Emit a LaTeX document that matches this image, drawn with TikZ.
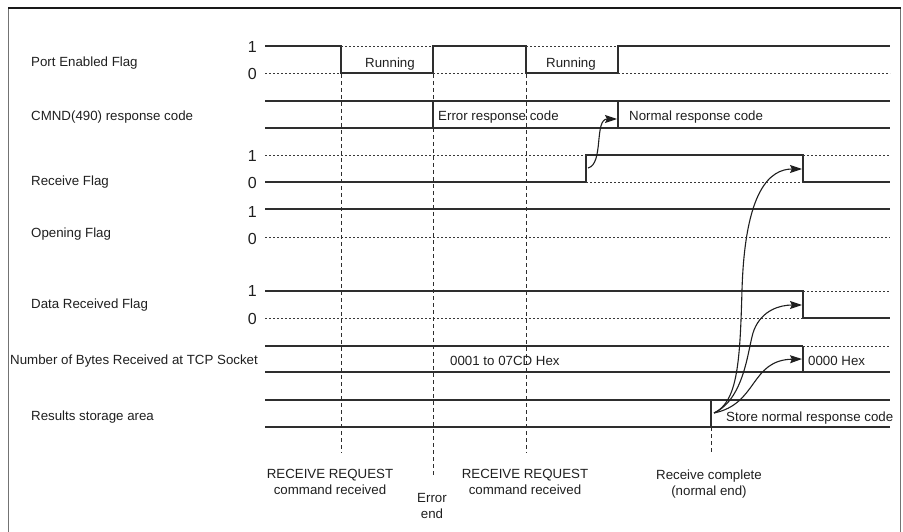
\documentclass[tikz,border=0pt]{standalone}
\usepackage{fontspec}
\setmainfont{Liberation Sans}
\usetikzlibrary{arrows.meta}
\begin{document}
\begin{tikzpicture}[x=1pt,y=-1pt,
 wave/.style={line width=1.3pt, black!82},
 dotl/.style={line width=0.8pt, black!78, dash pattern=on 2pt off 2pt},
 vdash/.style={line width=0.9pt, black!82, dash pattern=on 4pt off 3pt},
 lbl/.style={font=\fontsize{13.3}{16}\selectfont, text=black!88, inner sep=0pt},
 lvl/.style={font=\fontsize{16}{18}\selectfont, text=black!88, inner sep=0pt, anchor=east},
 arr/.style={line width=1.1pt, black!88, -{Stealth[length=12pt,width=8pt,inset=2pt]}},
]
\useasboundingbox (0,0) rectangle (903,532);
% frame
\draw[black!55, line width=1.3pt] (8.5,532) -- (8.5,8) (900.5,8) -- (900.5,532);
\draw[black!90, line width=1.1pt] (8,8) -- (901,8);

% ---------- Port Enabled Flag
\node[lbl, anchor=west] (pel) at (31,63) {Port Enabled Flag};
\node[lvl] (pe1) at (257,47) {1};
\node[lvl] (pe0) at (257,74) {0};
\draw[wave] (265,46) -- (341,46) -- (341,73) -- (433,73) -- (433,46) -- (526,46) -- (526,73) -- (618,73) -- (618,46) -- (890,46);
\draw[dotl] (341,46) -- (433,46) (526,46) -- (618,46) (265,73) -- (341,73) (433,73) -- (526,73) (618,73) -- (890,73);
\node[lbl] (run1) at (390,64) {Running};
\node[lbl] (run2) at (571,64) {Running};

% ---------- CMND(490) response code
\node[lbl, anchor=west] (cml) at (31,117) {CMND(490) response code};
\draw[wave] (265,101) -- (890,101) (265,128) -- (890,128) (433,101) -- (433,128) (618,101) -- (618,128);
\node[lbl, anchor=west] (err) at (438,117) {Error response code};
\node[lbl, anchor=west] (nor) at (629,117) {Normal response code};

% ---------- Receive Flag
\node[lbl, anchor=west] (rfl) at (31,182) {Receive Flag};
\node[lvl] (rf1) at (257,156) {1};
\node[lvl] (rf0) at (257,183) {0};
\draw[wave] (265,182) -- (586,182) -- (586,155) -- (803,155) -- (803,182) -- (890,182);
\draw[dotl] (265,155) -- (586,155) (803,155) -- (890,155) (586,182) -- (803,182);

% ---------- Opening Flag
\node[lbl, anchor=west] (ofl) at (31,234) {Opening Flag};
\node[lvl] (of1) at (257,212) {1};
\node[lvl] (of0) at (257,239) {0};
\draw[wave] (265,209) -- (890,209);
\draw[dotl] (265,237) -- (890,237);

% ---------- Data Received Flag
\node[lbl, anchor=west] (drl) at (31,305) {Data Received Flag};
\node[lvl] (dr1) at (257,291) {1};
\node[lvl] (dr0) at (257,319) {0};
\draw[wave] (265,291) -- (803,291) -- (803,318) -- (890,318);
\draw[dotl] (803,291) -- (890,291) (265,318) -- (803,318);

% ---------- Number of Bytes
\node[lbl, anchor=west] (nbl) at (10,361) {Number of Bytes Received at TCP Socket};
\draw[wave] (265,346) -- (803,346) (265,372) -- (890,372) (803,346) -- (803,372);
\draw[dotl] (803,346) -- (890,346);

% ---------- Results storage area
\node[lbl, anchor=west] (rsl) at (31,417) {Results storage area};
\draw[wave] (265,400) -- (890,400) (265,427) -- (890,427) (711,400) -- (711,427);

% ---------- vertical dashed lines
\draw[vdash] (341,74) -- (341,453);
\draw[vdash] (433,74) -- (433,101) (433,128) -- (433,476);
\draw[vdash] (526,74) -- (526,453);
\draw[vdash] (711,427) -- (711,453);

% texts over lines
\node[lbl, anchor=west] (hex1) at (450,361) {0001 to 07CD Hex};
\node[lbl, anchor=west] (hex0) at (808,361) {0000 Hex};
\node[lbl, anchor=west] (store) at (726,418) {Store normal response code};

% ---------- arrows
\coordinate (rise) at (588,168);
\coordinate (cmndtip) at (617,119);
\coordinate (src) at (714,413);
\coordinate (rftip) at (802,169);
\coordinate (drtip) at (802,305);
\coordinate (nbtip) at (802,359);
\draw[arr] (rise) .. controls (604,164) and (594,119) .. (cmndtip);
\draw[arr] (src) .. controls (738,402) and (740,360) .. (742,290) .. controls (745,190) and (770,169) .. (rftip);
\draw[arr] (src) .. controls (746,398) and (748,345) .. (754,330) .. controls (762,310) and (780,305) .. (drtip);
\draw[arr] (src) .. controls (758,404) and (750,360) .. (nbtip);

% ---------- bottom labels
\node[lbl, align=center] (ev1) at (330,482) {RECEIVE REQUEST\\command received};
\node[lbl, align=center] (ev2) at (432,506) {Error\\end};
\node[lbl, align=center] (ev3) at (525,482) {RECEIVE REQUEST\\command received};
\node[lbl, align=center] (ev4) at (709,484) {Receive complete\\(normal end)};
\end{tikzpicture}
\end{document}
